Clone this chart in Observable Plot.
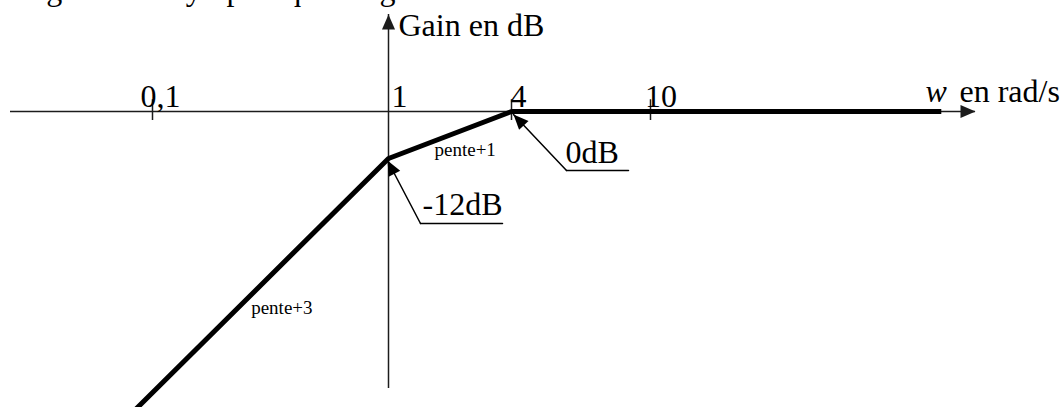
<!DOCTYPE html>
<html>
<head>
<meta charset="utf-8">
<script src="https://cdn.jsdelivr.net/npm/d3@7"></script>
<script src="https://cdn.jsdelivr.net/npm/@observablehq/plot@0.6"></script>
<style>
  html, body { margin: 0; padding: 0; background: #fff; }
  #page { position: relative; width: 1062px; height: 407px; overflow: hidden; }
  #title {
    position: absolute; left: 0; top: -27px; z-index: 2;
    font: 32px/32px "Liberation Serif", "Times New Roman", serif; color: #000;
    white-space: nowrap;
  }
  #chart { position: absolute; left: 0; top: 0; }
</style>
</head>
<body>
<div id="page">
  <div id="title">Diagramme asymptotique du gain</div>
  <div id="chart"></div>
</div>
<script>
// Asymptotic Bode gain: corner pulsations (rad/s) and gain (dB)
const cornerW = [0.085, 1, 4, 68];
const cornerGain = [-76, -12, 0, 0];

// Pulsation axis graduations
const tickW = [0.1, 1, 4, 10];
const tickLabels = ["0,1", "1", "4", "10"];

// Slope labels, one per sloped segment of the asymptote
const slopeLabels = ["pente+3", "pente+1"];

// Annotated corner values
const annW = [1, 4];
const annGain = [-12, 0];
const annText = ["-12dB", "0dB"];

const curve = cornerW.map((w, i) => ({w, gain: cornerGain[i]}));

const ink = "#000";
const axisInk = "#1c1c1c";
const serif = "'Liberation Serif', 'Times New Roman', serif";

// Filled arrowhead whose tip sits on the anchor point, pointing up before rotation
const arrowHead = {
  draw(ctx) {
    ctx.moveTo(0, 0);
    ctx.lineTo(-6.5, 15);
    ctx.lineTo(6.5, 15);
    ctx.closePath();
  }
};
// Plain straight stroke for vectors
const stem = {
  draw(ctx, l) {
    ctx.moveTo(0, 0);
    ctx.lineTo(0, -l);
  }
};

// Callout layout in pixels, relative to the annotated corner
const calloutLayout = [
  {tip: [-1, 2], tail: [32, 65], rule: 82, text: [34, 56]},
  {tip: [2, 3], tail: [55, 59], rule: 62, text: [54, 51]}
];

function callout(i) {
  const s = calloutLayout[i];
  const vx = s.tip[0] - s.tail[0], vy = s.tip[1] - s.tail[1];
  const angle = Math.atan2(vx, -vy) * 180 / Math.PI;
  const len = Math.hypot(vx, vy);
  const pos = {x: (j) => annW[j], y: (j) => annGain[j]};
  return [
    Plot.vector([i], {...pos, shape: stem, length: len, rotate: angle, anchor: "end",
      dx: s.tip[0], dy: s.tip[1], stroke: ink, strokeWidth: 1.5}),
    Plot.dot([i], {...pos, symbol: arrowHead, rotate: angle,
      dx: s.tip[0], dy: s.tip[1], fill: ink, stroke: "none"}),
    Plot.vector([i], {...pos, shape: stem, length: s.rule, rotate: 90, anchor: "start",
      dx: s.tail[0], dy: s.tail[1], stroke: ink, strokeWidth: 1.5}),
    Plot.text([i], {...pos, text: (j) => annText[j], textAnchor: "start", lineAnchor: "bottom",
      dx: s.text[0], dy: s.text[1], fontSize: 32, fontFamily: serif, fill: ink})
  ];
}

// Slope labels sit next to the middle of their segment (log-space midpoint)
const slopeNudge = [[-11, 30], [-15.5, 20.5]];
function slopeLabel(i) {
  const mid = {
    w: Math.sqrt(cornerW[i] * cornerW[i + 1]),
    gain: (cornerGain[i] + cornerGain[i + 1]) / 2
  };
  return Plot.text([mid], {x: "w", y: "gain", text: () => slopeLabels[i],
    textAnchor: "start", lineAnchor: "bottom", dx: slopeNudge[i][0], dy: slopeNudge[i][1],
    fontSize: 19, fontFamily: serif, fill: ink});
}

const tickNudge = [-12, 3, -1, -5.6];
function tickLabel(i) {
  return Plot.text([i], {x: (j) => tickW[j], y: 0, text: (j) => tickLabels[j],
    textAnchor: "start", lineAnchor: "bottom", dx: tickNudge[i], dy: -5,
    fontSize: 32, fontFamily: serif, fill: ink});
}

const chart = Plot.plot({
  width: 1062,
  height: 407,
  marginLeft: 10,
  marginRight: 87,
  marginTop: 14,
  marginBottom: 19,
  style: {background: "transparent", fontFamily: serif},
  x: {type: "log", domain: tickW, range: [152, 388, 511, 650], axis: null},
  y: {type: "linear", domain: [-12, 0], range: [158, 111], axis: null},
  marks: [
    // axes with filled arrowheads
    Plot.ruleY([0], {stroke: axisInk, strokeWidth: 1.5}),
    Plot.ruleX([1], {stroke: axisInk, strokeWidth: 1.5}),
    Plot.dot([0], {y: (d) => d, frameAnchor: "right", symbol: arrowHead, rotate: 90, fill: axisInk, stroke: "none"}),
    Plot.dot([1], {x: (d) => d, frameAnchor: "top", symbol: arrowHead, fill: axisInk, stroke: "none"}),
    // graduations
    Plot.ruleX(tickW.filter((w) => w !== 1), {x: (d) => d, y1: -2.3, y2: 3, stroke: axisInk, strokeWidth: 1.5}),
    ...tickW.map((_, i) => tickLabel(i)),
    // axis titles
    Plot.text(["Gain en dB"], {x: () => 1, frameAnchor: "top", text: (d) => d, textAnchor: "start",
      lineAnchor: "bottom", dx: 10, dy: 21, fontSize: 32, fontFamily: serif, fill: ink}),
    Plot.text(["w"], {y: () => 0, frameAnchor: "right", text: (d) => d, textAnchor: "start",
      lineAnchor: "bottom", dx: -50, dy: -10, fontSize: 32, fontStyle: "italic", fontFamily: serif, fill: ink}),
    Plot.text(["en rad/s"], {y: () => 0, frameAnchor: "right", text: (d) => d, textAnchor: "start",
      lineAnchor: "bottom", dx: -16, dy: -10, fontSize: 32, fontFamily: serif, fill: ink}),
    // asymptotic gain
    Plot.line(curve, {x: "w", y: "gain", stroke: ink, strokeWidth: 5, strokeLinejoin: "miter", strokeLinecap: "butt"}),
    ...slopeLabels.map((_, i) => slopeLabel(i)),
    ...annText.flatMap((_, i) => callout(i))
  ]
});

document.getElementById("chart").appendChild(chart);
</script>
</body>
</html>
